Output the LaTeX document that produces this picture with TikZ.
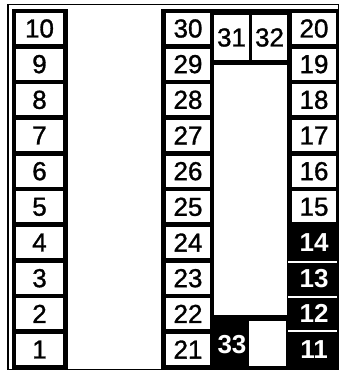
\documentclass[tikz,border=0pt]{standalone}
\usepackage{fontspec}
\setmainfont{Liberation Sans}
\newfontface\numface{Liberation Sans}[FakeBold=1.2]
\newfontface\hotface{Liberation Sans Bold}
\usetikzlibrary{positioning}
\tikzset{
  num/.style={font=\fontsize{26}{26}\selectfont\numface},
  cell/.style={rectangle, fill=white, inner sep=0pt, minimum height=31pt, num},
  cellL/.style={cell, minimum width=47pt},
  cellM/.style={cell, minimum width=44pt},
  cellR/.style={cell, minimum width=44pt},
  hot/.style={rectangle, inner sep=0pt, minimum width=44pt, minimum height=31pt,
              text=white, font=\fontsize{26}{26}\selectfont\hotface},
  sep/.style={draw=white, line width=2.5pt},
}

\begin{document}
\begin{tikzpicture}[x=1pt, y=-1pt]
  \useasboundingbox (0,0) rectangle (339,372);
  % outer frame and black carriers
  \draw[line width=1.2pt] (8,4.5) rectangle (338.5,369.5);
  \fill (12,9) rectangle (68,369);
  \fill (161,9) rectangle (339,369);

  % left row 1..10
  \foreach \n in {1,...,10}
    \node[cellL] (f\n) at (39.5, {28.5+35.67*(10-\n)}) {\n};
  % middle row 21..30
  \foreach \n in {21,...,30}
    \node[cellM] (f\n) at (188, {28.5+35.67*(30-\n)}) {\n};
  % right row 15..20
  \foreach \n in {15,...,20}
    \node[cellR] (f\n) at (314, {28.5+35.67*(20-\n)}) {\n};
  \foreach \n in {11,...,14}
    \node[hot] (f\n) at (314, {28.5+35.67*(20-\n)}) {\n};
  \foreach \y in {262,297,331}
    \draw[sep] (288,\y) -- (337,\y);

  % centre opening
  \node[cell, minimum width=35pt, minimum height=45pt] (f31) at (231.5,37.5) {31};
  \node[cell, minimum width=35pt, minimum height=45pt] (f32) at (269.5,37.5) {32};
  \fill[white] (214,65) rectangle (287,315);
  \fill[white] (249,321) rectangle (286,366);
  \node[hot, minimum width=30pt] (f33) at (232,345) {33};
\end{tikzpicture}
\end{document}
